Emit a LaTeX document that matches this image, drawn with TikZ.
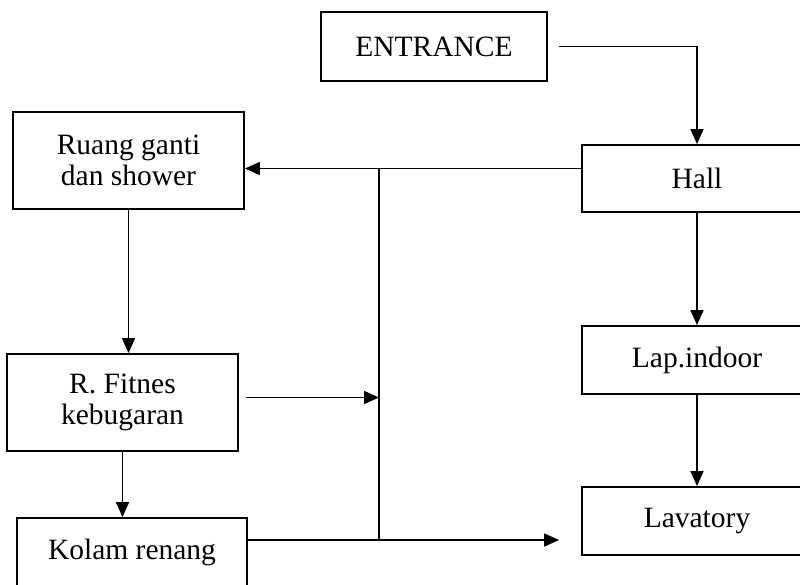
\documentclass[tikz,border=0pt]{standalone}
\usepackage{fontspec}
\setmainfont{Liberation Serif}
\usetikzlibrary{arrows.meta}
\begin{document}
\begin{tikzpicture}[x=1pt,y=-1pt,
    room/.style={draw,line width=1.8pt,align=center,inner sep=0pt,
      font=\fontsize{29.5}{31}\selectfont},
    arr/.style={line width=1.6pt,-{Triangle[length=15pt,width=13pt]}}]
    \clip (0,0) rectangle (800,584);
    \node[room,minimum width=226,minimum height=69] (entrance) at (434,46.5) {ENTRANCE};
    \node[room,minimum width=230,minimum height=67] (hall) at (697,178.5) {Hall};
    \node[room,minimum width=230,minimum height=68] (lap) at (697,360) {Lap.indoor};
    \node[room,minimum width=230,minimum height=68] (lav) at (697,521) {Lavatory};
    \node[room,minimum width=231,minimum height=97] (ruang) at (128.5,160.5) {Ruang ganti\\dan shower};
    \node[room,minimum width=231,minimum height=97] (fitnes) at (122.5,402.5) {R. Fitnes\\kebugaran};
    \node[room,minimum width=230,minimum height=68] (kolam) at (132,552) {Kolam renang};
    \coordinate (jtop) at (379,168);
    \coordinate (jbot) at (379,540);
    \draw[arr,shorten <=11pt] (entrance.east) -| (hall.north);
    \draw[arr] ([yshift=10pt]hall.west) -- ([yshift=10pt]hall.west -| ruang.east);
    \draw[line width=1.6pt] (jtop) -- (jbot);
    \draw[arr] (ruang.south) -- (ruang.south |- fitnes.north);
    \draw[arr,shorten <=7pt] ([yshift=5pt]fitnes.east) -- ([yshift=5pt]fitnes.east -| jtop);
    \draw[arr] (fitnes.south) -- (fitnes.south |- kolam.north);
    \draw[arr,shorten >=22pt] (kolam.east |- jbot) -- (jbot -| lav.west);
    \draw[arr] (hall.south) -- (lap.north);
    \draw[arr] (lap.south) -- (lav.north);
\end{tikzpicture}
\end{document}
